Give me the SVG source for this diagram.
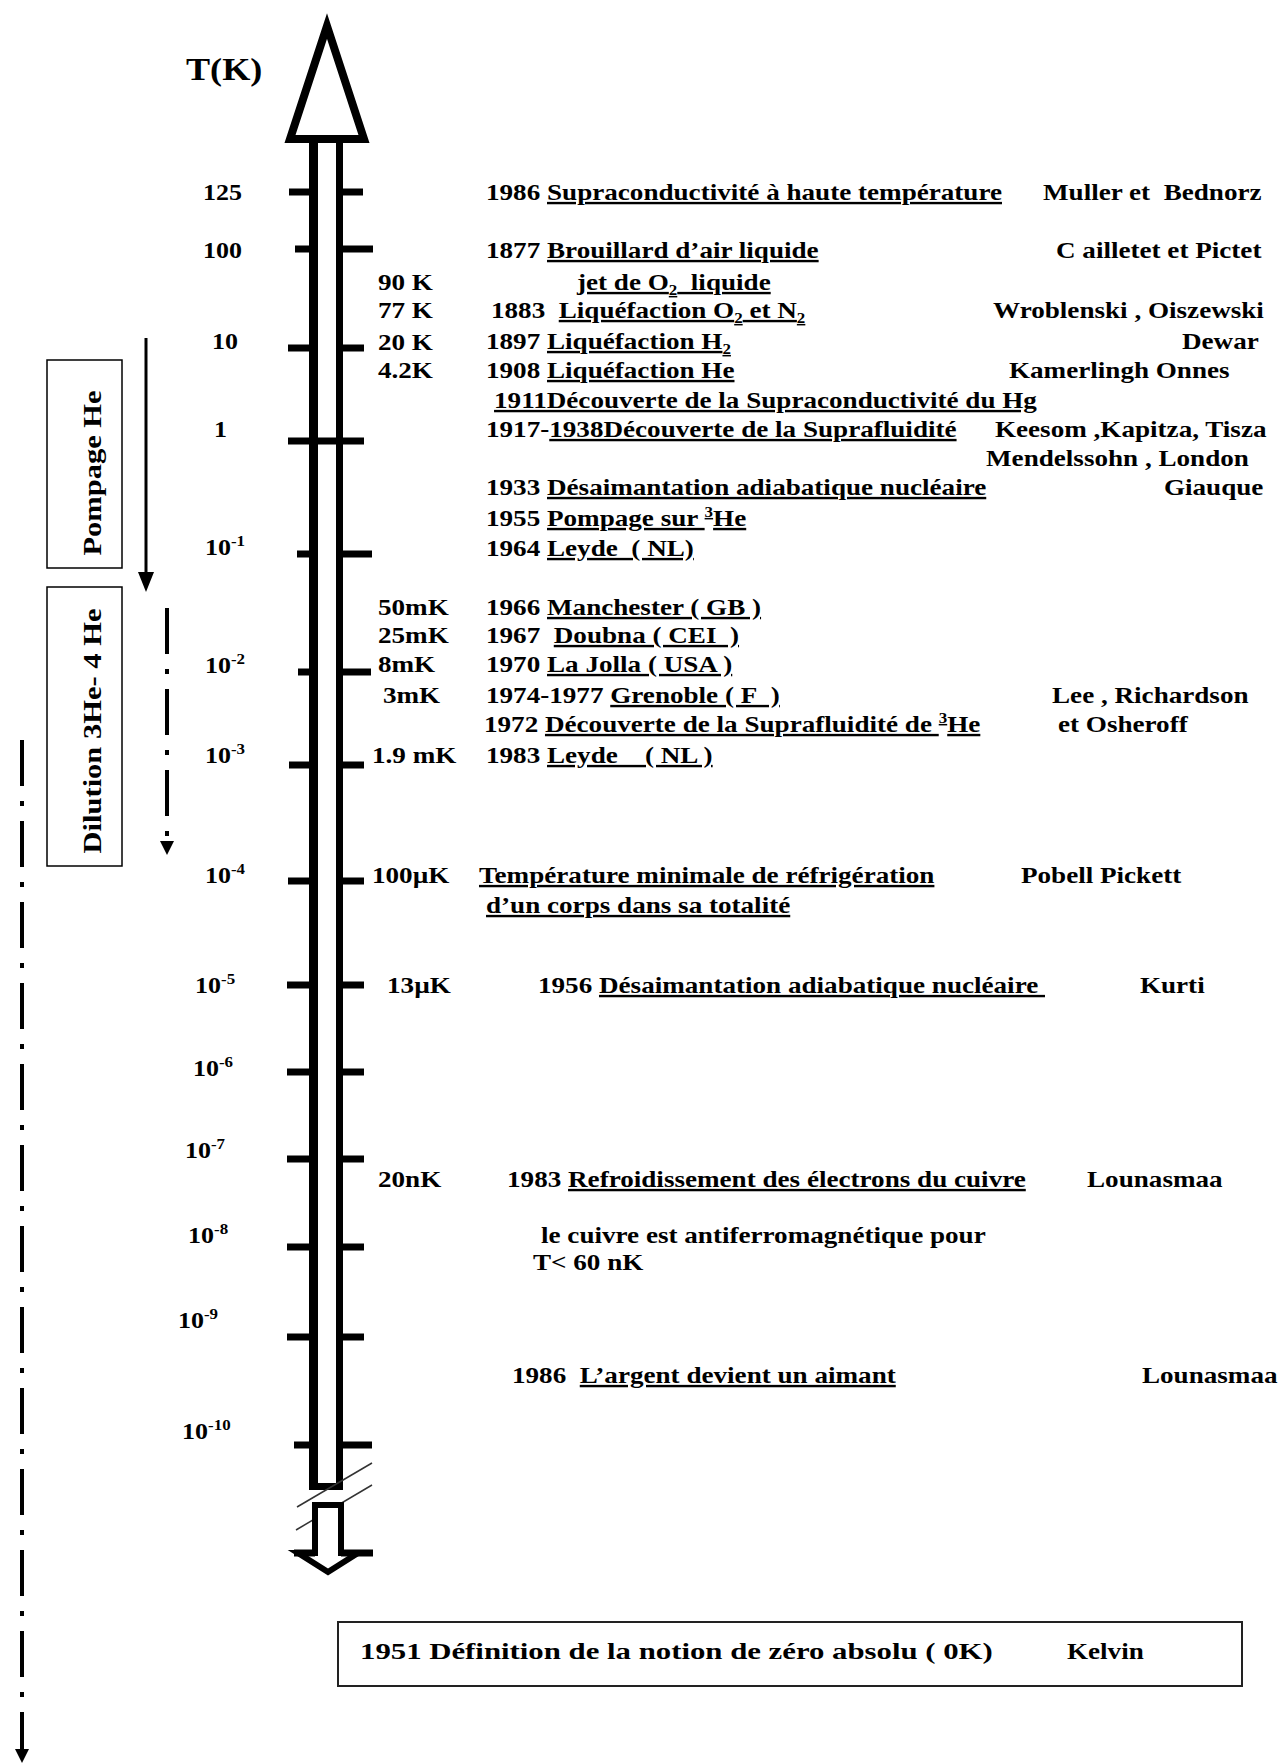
<svg xmlns="http://www.w3.org/2000/svg" width="1284" height="1764" viewBox="0 0 1284 1764">
<style>
text{font-family:"Liberation Serif","Times New Roman",serif;font-weight:bold;fill:#000;white-space:pre}
.lbl{font-size:23px}
.tl{font-size:24px}
.ev{font-size:24px}
.u{text-decoration:underline}
.sm{font-size:15px}
.wall{stroke:#000;fill:none}
.tick{stroke:#000;stroke-width:7}
.dd{stroke:#000;stroke-width:4;fill:none;stroke-dasharray:46 15 5 15}
</style>
<defs>
<marker id="ah" viewBox="0 0 20 16" markerWidth="20" markerHeight="16" refX="0" refY="8" orient="auto" markerUnits="userSpaceOnUse"><path d="M0,0 L20,8 L0,16 z" fill="#000"/></marker>
<marker id="ahs" viewBox="0 0 14 14" markerWidth="14" markerHeight="14" refX="0" refY="7" orient="auto" markerUnits="userSpaceOnUse"><path d="M0,0 L14,7 L0,14 z" fill="#000"/></marker>
</defs>
<rect width="1284" height="1764" fill="#fff"/>

<g id="axis">
<polygon points="327,26 290,139 364,139" fill="#fff" stroke="#000" stroke-width="8" stroke-miterlimit="10"/>
<line class="wall" x1="313.5" y1="139" x2="313.5" y2="1490" stroke-width="9"/>
<line class="wall" x1="339.5" y1="139" x2="339.5" y2="1490" stroke-width="7"/>
<line class="wall" x1="309" y1="1486.5" x2="343" y2="1486.5" stroke-width="7"/>
<line x1="297" y1="1507" x2="372" y2="1463" stroke="#333" stroke-width="1.5"/>
<line x1="296" y1="1530" x2="372" y2="1485" stroke="#333" stroke-width="1.5"/>
<polygon points="315,1505 341,1505 341,1553 358,1553 328,1572 298,1553 315,1553" fill="#fff" stroke="#000" stroke-width="6"/>
<line class="tick" x1="294" y1="1553" x2="315" y2="1553" stroke-width="8"/>
<line class="tick" x1="341" y1="1553" x2="373" y2="1553" stroke-width="8"/>
</g>

<g id="ticks">
<path class="tick" stroke-width="6" d="M289,192H309M343,192H363"/>
<path class="tick" d="M295,249H309M342,249H373"/>
<path class="tick" stroke-width="8" d="M288,348H309M343,348H364"/>
<path class="tick" d="M288,441H364"/>
<path class="tick" d="M297,554H309M343,554H372"/>
<path class="tick" stroke-width="5" d="M298,672H309M343,672H371"/>
<path class="tick" d="M289,765H309M343,765H364"/>
<path class="tick" stroke-width="8" d="M288,881H309M343,881H364"/>
<path class="tick" d="M287,985H309M343,985H364"/>
<path class="tick" d="M287,1072H309M343,1072H364"/>
<path class="tick" d="M287,1159H309M343,1159H364"/>
<path class="tick" d="M287,1247H309M343,1247H364"/>
<path class="tick" d="M287,1337H309M343,1337H364"/>
<path class="tick" d="M294,1445H309M343,1445H372"/>
</g>

<g id="scale-labels" transform="scale(1.13,1)">
<text x="164.6" y="80" style="font-size:32px">T(K)</text>
<text class="lbl" x="179.6" y="200">125</text>
<text class="lbl" x="179.6" y="258">100</text>
<text class="lbl" x="187.6" y="349">10</text>
<text class="lbl" x="189.4" y="437">1</text>
<text class="lbl" x="181.4" y="555">10<tspan class="sm" dy="-9">-1</tspan></text>
<text class="lbl" x="181.4" y="673">10<tspan class="sm" dy="-9">-2</tspan></text>
<text class="lbl" x="181.4" y="763">10<tspan class="sm" dy="-9">-3</tspan></text>
<text class="lbl" x="181.4" y="883">10<tspan class="sm" dy="-9">-4</tspan></text>
<text class="lbl" x="172.6" y="993">10<tspan class="sm" dy="-9">-5</tspan></text>
<text class="lbl" x="170.8" y="1076">10<tspan class="sm" dy="-9">-6</tspan></text>
<text class="lbl" x="163.7" y="1158">10<tspan class="sm" dy="-9">-7</tspan></text>
<text class="lbl" x="166.4" y="1243">10<tspan class="sm" dy="-9">-8</tspan></text>
<text class="lbl" x="157.5" y="1328">10<tspan class="sm" dy="-9">-9</tspan></text>
<text class="lbl" x="161.1" y="1439">10<tspan class="sm" dy="-9">-10</tspan></text>
</g>

<g id="temperature-labels" transform="scale(1.13,1)">
<text class="tl" x="334.5" y="290">90 K</text>
<text class="tl" x="334.5" y="318">77 K</text>
<text class="tl" x="334.5" y="350">20 K</text>
<text class="tl" x="334.5" y="378">4.2K</text>
<text class="tl" x="334.5" y="615">50mK</text>
<text class="tl" x="334.5" y="643">25mK</text>
<text class="tl" x="334.5" y="672">8mK</text>
<text class="tl" x="338.9" y="703">3mK</text>
<text class="tl" x="329.2" y="763">1.9 mK</text>
<text class="tl" x="329.2" y="883">100µK</text>
<text class="tl" x="342.5" y="993">13µK</text>
<text class="tl" x="334.5" y="1187">20nK</text>
</g>

<g id="events" transform="scale(1.13,1)">
<text class="ev" x="430.1" y="200">1986 <tspan class="u">Supraconductivité à haute température</tspan></text>
<text class="ev" x="923" y="200">Muller et&#160; Bednorz</text>
<text class="ev" x="430.1" y="258">1877 <tspan class="u">Brouillard d’air liquide</tspan></text>
<text class="ev" x="934.5" y="258">C ailletet et Pictet</text>
<text class="ev" x="510.6" y="290"><tspan class="u">jet de O</tspan><tspan class="sm u" dy="5">2</tspan><tspan class="u" dy="-5">&#160; liquide</tspan></text>
<text class="ev" x="434.5" y="318">1883&#160; <tspan class="u">Liquéfaction O</tspan><tspan class="sm u" dy="5">2</tspan><tspan class="u" dy="-5"> et N</tspan><tspan class="sm u" dy="5">2</tspan></text>
<text class="ev" x="878.8" y="318">Wroblenski , Oiszewski</text>
<text class="ev" x="430.1" y="349">1897 <tspan class="u">Liquéfaction H</tspan><tspan class="sm u" dy="5">2</tspan></text>
<text class="ev" x="1046" y="349">Dewar</text>
<text class="ev" x="430.1" y="378">1908 <tspan class="u">Liquéfaction He</tspan></text>
<text class="ev" x="892.9" y="378">Kamerlingh Onnes</text>
<text class="ev" x="437.2" y="408"><tspan class="u">1911Découverte de la Supraconductivité du Hg</tspan></text>
<text class="ev" x="430.1" y="437">1917-<tspan class="u">1938Découverte de la Suprafluidité</tspan></text>
<text class="ev" x="880.5" y="437">Keesom ,Kapitza, Tisza</text>
<text class="ev" x="872.6" y="466">Mendelssohn , London</text>
<text class="ev" x="430.1" y="495">1933 <tspan class="u">Désaimantation adiabatique nucléaire</tspan></text>
<text class="ev" x="1030" y="495">Giauque</text>
<text class="ev" x="430.1" y="526">1955 <tspan class="u">Pompage sur </tspan><tspan class="sm u" dy="-9">3</tspan><tspan class="u" dy="9">He</tspan></text>
<text class="ev" x="430.1" y="556">1964 <tspan class="u">Leyde&#160; ( NL)</tspan></text>
<text class="ev" x="430.1" y="615">1966 <tspan class="u">Manchester ( GB )</tspan></text>
<text class="ev" x="430.1" y="643">1967&#160; <tspan class="u">Doubna ( CEI&#160; )</tspan></text>
<text class="ev" x="430.1" y="672">1970 <tspan class="u">La Jolla ( USA )</tspan></text>
<text class="ev" x="430.1" y="703">1974-1977 <tspan class="u">Grenoble ( F&#160; )</tspan></text>
<text class="ev" x="931" y="703">Lee , Richardson</text>
<text class="ev" x="428.3" y="732">1972 <tspan class="u">Découverte de la Suprafluidité de </tspan><tspan class="sm u" dy="-9">3</tspan><tspan class="u" dy="9">He</tspan></text>
<text class="ev" x="936.3" y="732">et Osheroff</text>
<text class="ev" x="430.1" y="763">1983 <tspan class="u">Leyde&#160;&#160;&#160; ( NL )</tspan></text>
<text class="ev" x="423.9" y="883"><tspan class="u">Température minimale de réfrigération</tspan></text>
<text class="ev" x="903.5" y="883">Pobell Pickett</text>
<text class="ev" x="430.1" y="913"><tspan class="u">d’un corps dans sa totalité</tspan></text>
<text class="ev" x="476.1" y="993">1956 <tspan class="u">Désaimantation adiabatique nucléaire&#160;</tspan></text>
<text class="ev" x="1008.8" y="993">Kurti</text>
<text class="ev" x="448.7" y="1187">1983 <tspan class="u">Refroidissement des électrons du cuivre</tspan></text>
<text class="ev" x="962" y="1187">Lounasmaa</text>
<text class="ev" x="478.8" y="1243">le cuivre est antiferromagnétique pour</text>
<text class="ev" x="471.7" y="1270">T&lt; 60 nK</text>
<text class="ev" x="453.1" y="1383">1986&#160; <tspan class="u">L’argent devient un aimant</tspan></text>
<text class="ev" x="1010.6" y="1383">Lounasmaa</text>
</g>

<g id="zero-absolu">
<rect x="338" y="1622" width="904" height="64" fill="none" stroke="#222" stroke-width="2"/>
<g transform="scale(1.13,1)">
<text class="ev" x="318.6" y="1659" textLength="560" lengthAdjust="spacingAndGlyphs">1951 Définition de la notion de zéro absolu ( 0K)</text>
<text class="ev" x="944.2" y="1659">Kelvin</text>
</g>
</g>

<g id="pompage">
<rect x="47" y="360" width="75" height="208" fill="none" stroke="#000" stroke-width="1.5"/>
<text x="101" y="473" transform="rotate(-90 101 473)" text-anchor="middle" style="font-size:26px" textLength="165" lengthAdjust="spacingAndGlyphs">Pompage He</text>
</g>
<g id="dilution">
<rect x="47" y="587" width="75" height="279" fill="none" stroke="#000" stroke-width="1.5"/>
<text x="101" y="731" transform="rotate(-90 101 731)" text-anchor="middle" style="font-size:26px" textLength="245" lengthAdjust="spacingAndGlyphs">Dilution 3He- 4 He</text>
</g>

<g id="connectors">
<line x1="146" y1="338" x2="146" y2="572" stroke="#000" stroke-width="3" marker-end="url(#ah)"/>
<line class="dd" x1="167" y1="608" x2="167" y2="841" marker-end="url(#ahs)"/>
<line class="dd" x1="22" y1="740" x2="22" y2="1749" marker-end="url(#ahs)"/>
</g>
</svg>
